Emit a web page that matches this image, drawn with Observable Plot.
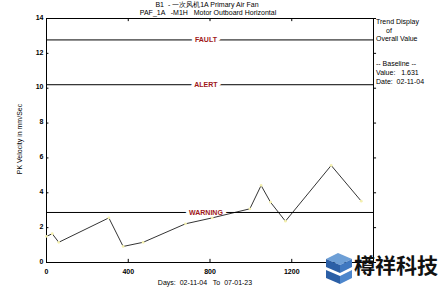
<!DOCTYPE html>
<html><head><meta charset="utf-8">
<script src="https://cdn.jsdelivr.net/npm/d3@7"></script>
<script src="https://cdn.jsdelivr.net/npm/@observablehq/plot@0.6"></script>
<style>
body{margin:0;background:#fff;}
#wrap{position:relative;width:444px;height:289px;font-family:"Liberation Sans",Arial,sans-serif;color:#000;overflow:hidden;}
.t{position:absolute;font-size:7px;white-space:pre;line-height:1;}
</style></head><body>
<div id="wrap"></div>
<script>
const days   = [0, 28, 60, 305, 375, 473, 680, 811, 995, 1050, 1096, 1169, 1393, 1540];
const values = [1.5, 1.65, 1.16, 2.56, 0.92, 1.16, 2.22, 2.56, 3.08, 4.42, 3.46, 2.37, 5.57, 3.52];
const limitNames  = ["FAULT", "ALERT", "WARNING"];
const limitValues = [12.77, 10.2, 2.87];
const xTicks = [0, 400, 800, 1200, 1600];
const xTickLabels = [0, 400, 800, 1200];
const yTicks = [0, 2, 4, 6, 8, 10, 12, 14];

const data = days.map((d, i) => ({day: d, v: values[i]}));
const limits = limitNames.map((n, i) => ({name: n, v: limitValues[i]}));

const chart = Plot.plot({
  width: 444, height: 289,
  marginLeft: 46, marginRight: 71, marginTop: 18, marginBottom: 27,
  style: {fontFamily: "Liberation Sans, Arial, sans-serif", background: "white"},
  x: {domain: [0, 1600]},
  y: {domain: [0, 14]},
  marks: [
    Plot.frame({stroke: "black", strokeWidth: 1}),
    Plot.ruleY(limits, {y: "v", stroke: "black", strokeWidth: 1}),
    Plot.text(limits, {x: 780, y: "v", text: "name", fill: "#a01818", fontSize: 7, fontWeight: "bold",
      stroke: "white", strokeWidth: 7, paintOrder: "stroke"}),
    Plot.line(data, {x: "day", y: "v", stroke: "black", strokeWidth: 0.8}),
    Plot.dot(data, {x: "day", y: "v", r: 1.4, fill: "#f4f0b0", stroke: "none"}),
    Plot.ruleX(xTicks, {x: d => d, y1: 0, y2: 0.18, stroke: "black"}),
    Plot.ruleX(xTicks, {x: d => d, y1: 13.82, y2: 14, stroke: "black"}),
    Plot.ruleY(yTicks, {y: d => d, x1: 0, x2: 12, stroke: "black"}),
    Plot.ruleY(yTicks, {y: d => d, x1: 1600, x2: 1615, stroke: "black", clip: false}),
    Plot.axisX({ticks: xTickLabels, tickFormat: d3.format("d"), tickSize: 0, tickPadding: 7, fontSize: 7, fontWeight: "bold", label: null}),
    Plot.axisY({ticks: yTicks, tickFormat: d3.format("d"), tickSize: 0, tickPadding: 3, fontSize: 7, fontWeight: "bold", label: null, dy: -1})
  ]
});
const wrap = document.getElementById("wrap");
wrap.appendChild(chart);

function addText(txt, x, y, opts = {}) {
  const d = document.createElement("div");
  d.className = "t";
  d.textContent = txt;
  d.style.left = x + "px"; d.style.top = y + "px";
  Object.assign(d.style, opts);
  wrap.appendChild(d);
  return d;
}
addText("B1  - 一次风机1A Primary Air Fan", 207, 1, {transform: "translateX(-50%)"});
addText("PAF_1A   -M1H   Motor Outboard Horizontal", 208, 8.5, {transform: "translateX(-50%)"});
addText("Trend Display", 376, 18);
addText("of", 386, 27);
addText("Overall Value", 376, 35);
addText("-- Baseline --", 376, 60);
addText("Value:   1.631", 376, 69);
addText("Date:  02-11-04", 376, 78);
addText("Days:  02-11-04   To  07-01-23", 205, 279, {transform: "translateX(-50%)"});
addText("PK Velocity in mm/Sec", 19, 139, {transform: "translate(-50%,-50%) rotate(-90deg)"});

// watermark
const wm = document.createElement("div");
wm.style.cssText = "position:absolute;left:322px;top:249px;width:122px;height:40px;";
wm.innerHTML = '<svg width="34" height="38" style="position:absolute;left:0;top:0">' +
  '<polygon points="4,10 16,4 30,10 18,16" fill="#6d9fd6"/>' +
  '<polygon points="4,10 18,16 18,24 4,18" fill="#2b5fa6"/>' +
  '<polygon points="18,16 30,10 30,18 18,24" fill="#3f78c0"/>' +
  '<polygon points="4,21 18,27 18,35 4,29" fill="#2b5fa6"/>' +
  '<polygon points="18,27 30,21 30,29 18,35" fill="#4d86cc"/>' +
  '</svg>' +
  '<div style="position:absolute;left:32px;top:5px;font-family:\'Noto Sans CJK SC\';font-weight:bold;font-size:21px;line-height:1;color:#111;white-space:nowrap">樽祥科技</div>';
wrap.appendChild(wm);
</script>
</body></html>
